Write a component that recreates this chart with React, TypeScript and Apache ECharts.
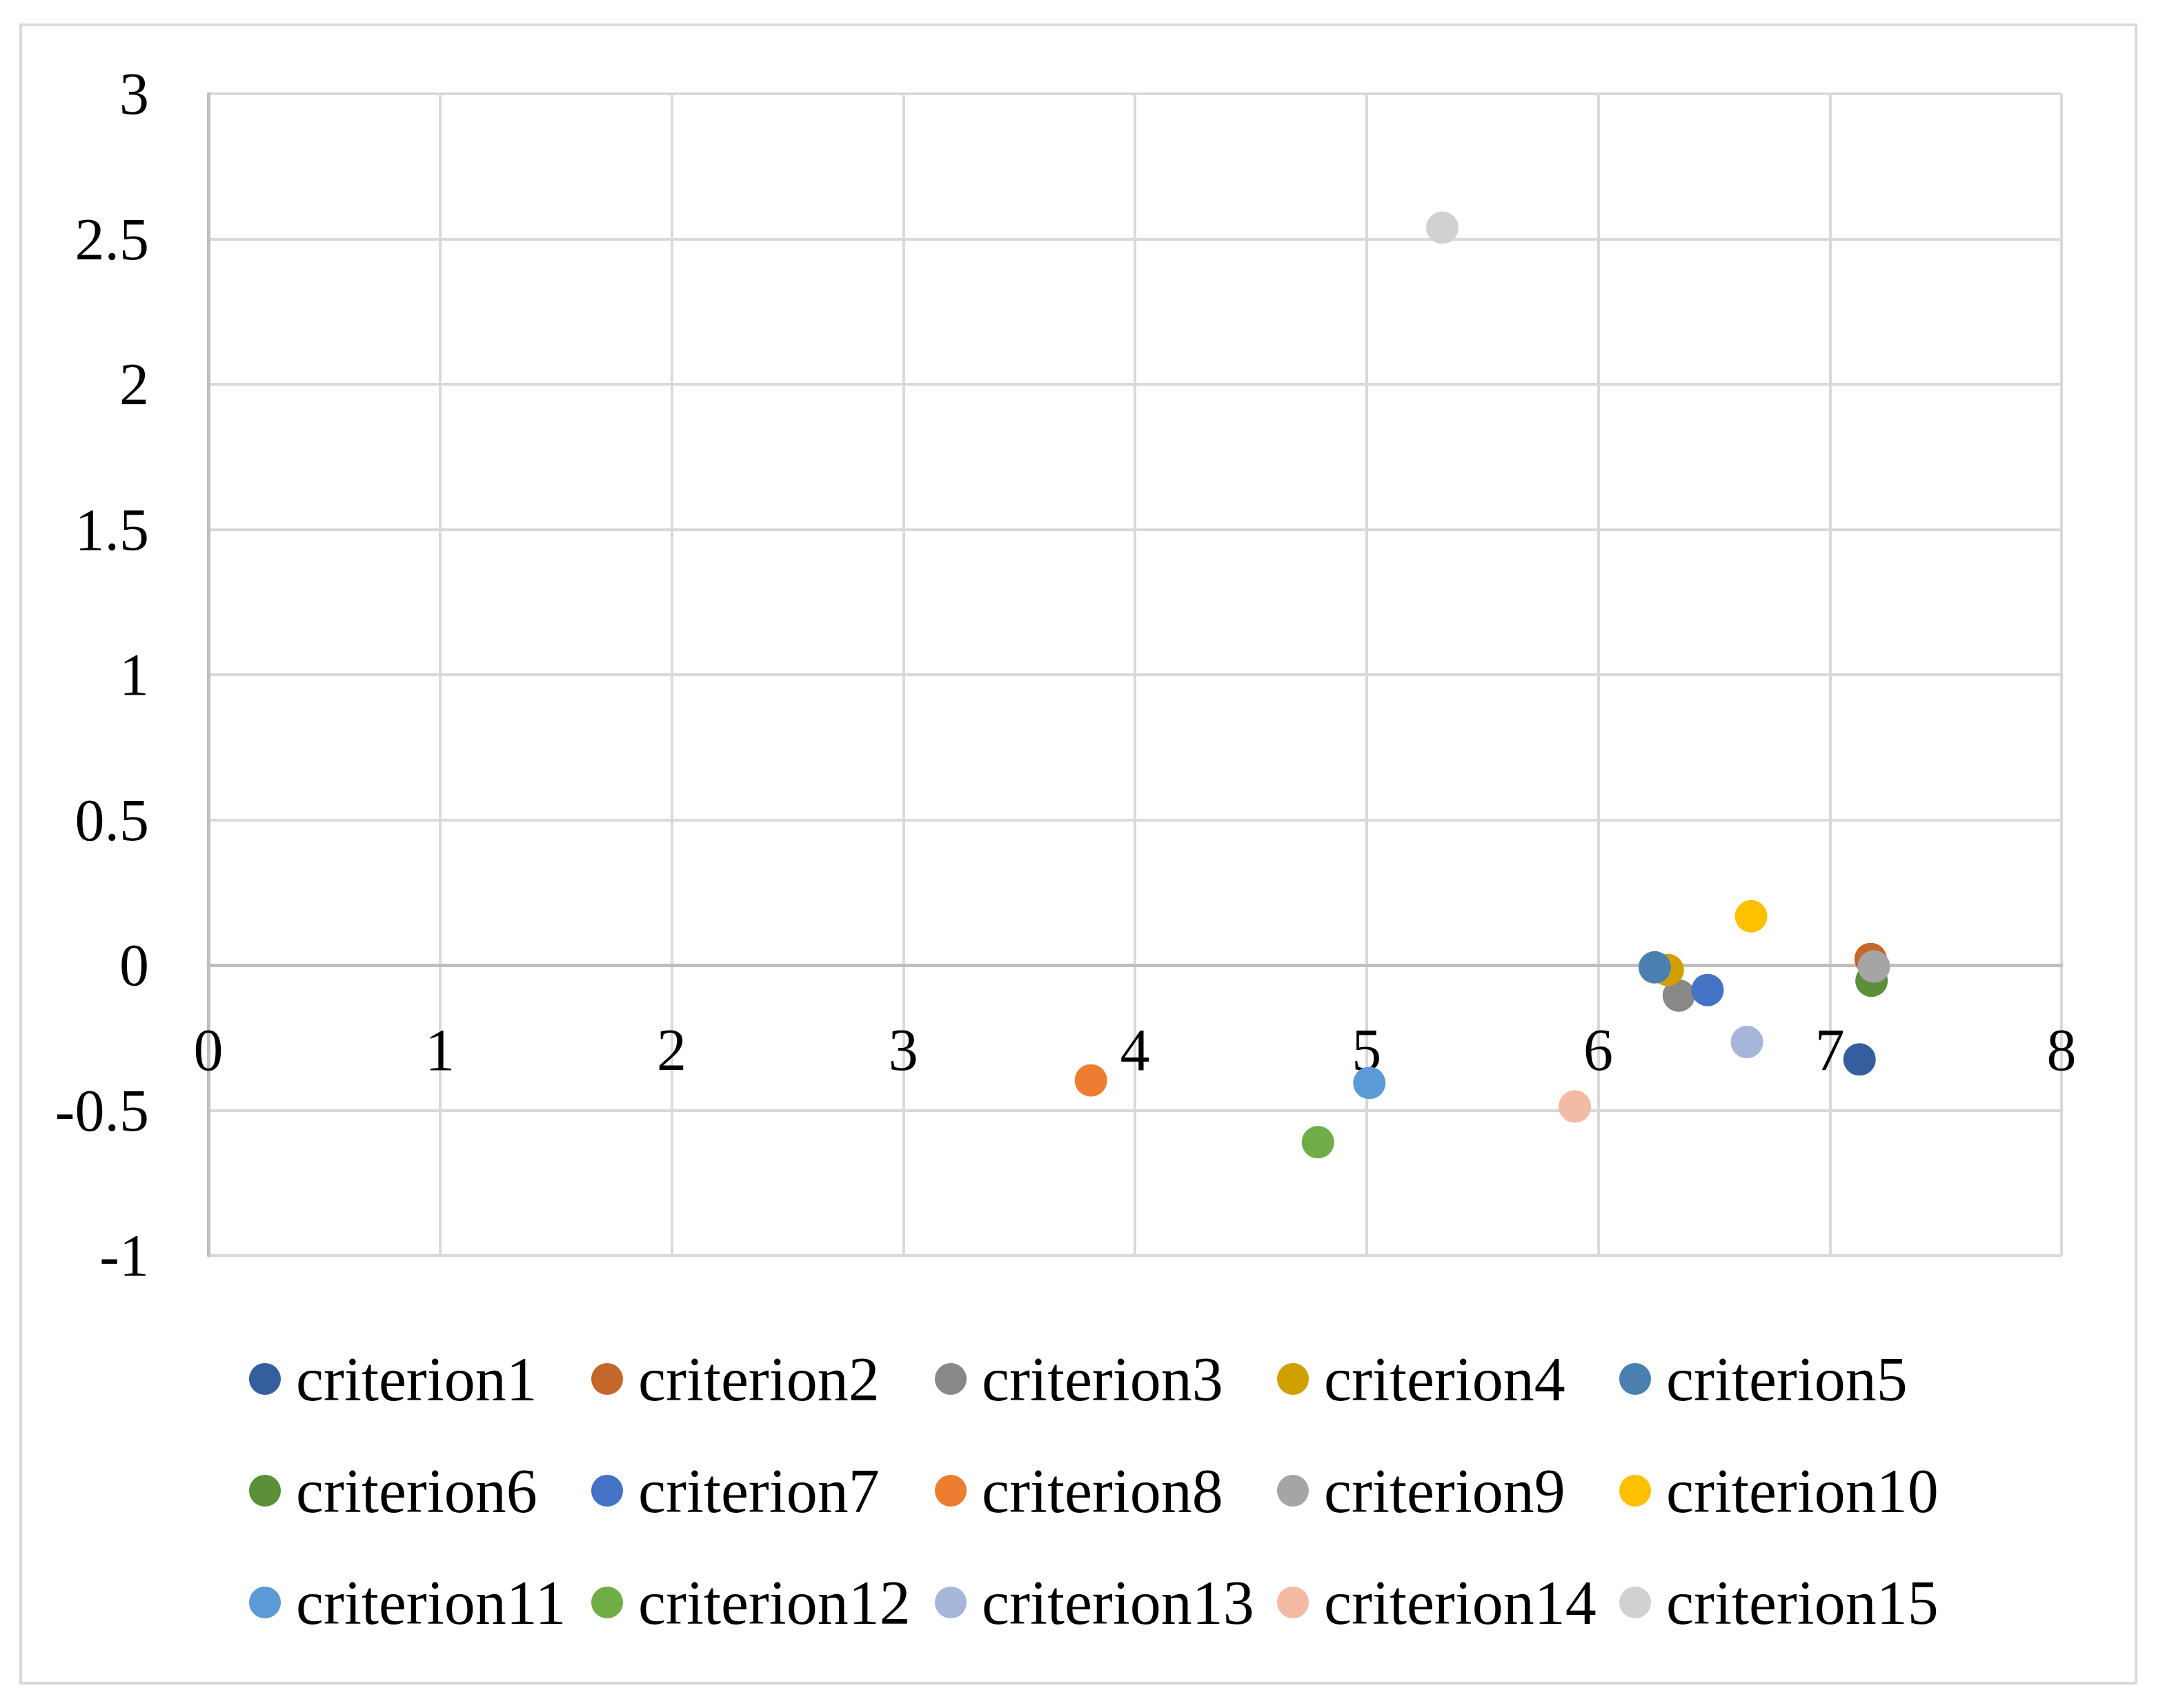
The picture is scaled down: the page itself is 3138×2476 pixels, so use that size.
import React, { useEffect, useRef } from "react";
import * as echarts from "echarts";

const seriesNames = [
  "criterion1", "criterion2", "criterion3", "criterion4", "criterion5",
  "criterion6", "criterion7", "criterion8", "criterion9", "criterion10",
  "criterion11", "criterion12", "criterion13", "criterion14", "criterion15",
];
const xValues = [7.128, 7.176, 6.348, 6.3, 6.244, 7.18, 6.472, 3.81, 7.19, 6.66, 5.012, 4.79, 6.642, 5.899, 5.327];
const yValues = [-0.325, 0.021, -0.105, -0.017, -0.008, -0.054, -0.086, -0.397, -0.005, 0.168, -0.406, -0.61, -0.265, -0.487, 2.539];
const colors = [
  "#355E9F", "#C4672B", "#888888", "#CFA000", "#4A80B0",
  "#5B8F3A", "#4472C4", "#ED7D31", "#A5A5A5", "#FFC000",
  "#5B9BD5", "#70AD47", "#A6B5DA", "#F3BAA4", "#D1D1D1",
];

const FONT = "Liberation Serif";

export default function App() {
  const ref = useRef<HTMLDivElement>(null);
  useEffect(() => {
    document.body.style.margin = "0";
    const chart = echarts.init(ref.current!, null, { renderer: "svg" });
    const series = seriesNames.map((name, i) => ({
      name,
      type: "scatter",
      data: [[xValues[i], yValues[i]]],
      symbolSize: 47,
      itemStyle: { color: colors[i], opacity: 1 },
    }));
    const colLefts = [356, 852, 1350, 1846, 2342];
    const legends = colLefts.map((left, c) => ({
      left,
      top: 1949,
      orient: "vertical",
      itemWidth: 48,
      itemHeight: 46,
      itemGap: 72,
      icon: "circle",
      data: [seriesNames[c], seriesNames[c + 5], seriesNames[c + 10]],
      textStyle: { fontFamily: FONT, fontSize: 90, color: "#000", padding: [0, 0, 0, 16], lineHeight: 84 },
    }));
    chart.setOption({
      animation: false,
      backgroundColor: "#fff",
      graphic: [
        {
          type: "rect",
          shape: { x: 30, y: 36, width: 3066, height: 2404 },
          style: { fill: "none", stroke: "#D9D9D9", lineWidth: 4 },
          silent: true,
        },
      ],
      grid: { left: 302, top: 136, width: 2686, height: 1684 },
      legend: legends,
      xAxis: {
        type: "value",
        min: 0,
        max: 8,
        interval: 1,
        offset: -421,
        axisLine: { show: true, onZero: false, lineStyle: { color: "#BFBFBF", width: 5 } },
        axisTick: { show: false },
        axisLabel: { fontFamily: FONT, fontSize: 86, color: "#000", margin: 80 },
        splitLine: { show: true, lineStyle: { color: "#D9D9D9", width: 4 } },
      },
      yAxis: {
        type: "value",
        min: -1,
        max: 3,
        interval: 0.5,
        axisLine: { show: true, onZero: false, lineStyle: { color: "#BFBFBF", width: 5 } },
        axisTick: { show: false },
        axisLabel: { fontFamily: FONT, fontSize: 86, color: "#000", margin: 86 },
        splitLine: { show: true, lineStyle: { color: "#D9D9D9", width: 4 } },
      },
      series,
    });
    return () => chart.dispose();
  }, []);
  return <div ref={ref} style={{ width: 3138, height: 2476 }} />;
}
